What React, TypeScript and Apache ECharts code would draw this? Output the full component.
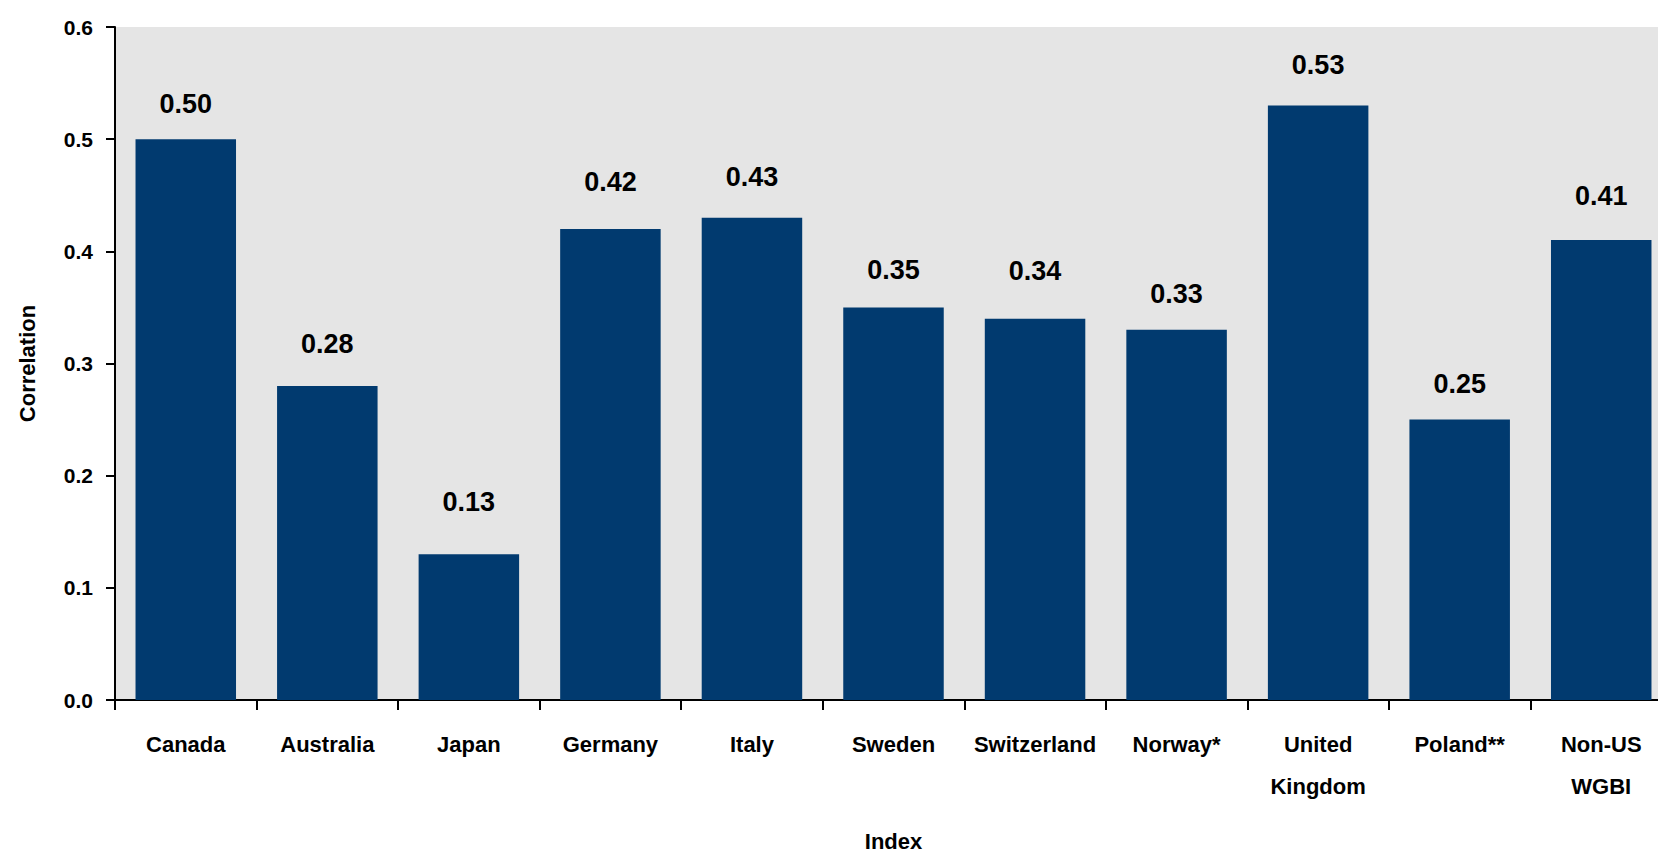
import React, { useEffect, useRef } from "react";
import * as echarts from "echarts";

const categories = [
  "Canada",
  "Australia",
  "Japan",
  "Germany",
  "Italy",
  "Sweden",
  "Switzerland",
  "Norway*",
  "United\nKingdom",
  "Poland**",
  "Non-US\nWGBI",
];
const correlations = [0.5, 0.28, 0.13, 0.42, 0.43, 0.35, 0.34, 0.33, 0.53, 0.25, 0.41];
const yTicks = { min: 0, max: 0.6, interval: 0.1 };

// extra gap (px) between each bar top and its value label, as placed in the original
const labelLift = [0, 6, 17, 11, 5, 2, 12, 0, 5, 0, 9];

const FONT = '"Liberation Sans", Arial, sans-serif';

export default function App() {
  const ref = useRef<HTMLDivElement>(null);
  useEffect(() => {
    if (!ref.current) return;
    const chart = echarts.init(ref.current, undefined, { renderer: "svg" });
    const barData = correlations.map((v, i) => ({
      value: v,
      label: { distance: 22 + labelLift[i] },
    }));
    chart.setOption({
      animation: false,
      grid: {
        left: 115,
        right: 0,
        top: 27,
        bottom: 153,
        show: true,
        backgroundColor: "#e5e5e5",
        borderWidth: 0,
        containLabel: false,
        outerBoundsMode: "none",
      },
      xAxis: {
        type: "category",
        data: categories,
        name: "Index",
        nameLocation: "middle",
        nameGap: 130,
        nameTextStyle: { fontFamily: FONT, fontWeight: "bold", fontSize: 22, color: "#000" },
        axisLine: { show: true, lineStyle: { color: "#000", width: 2 } },
        axisTick: { show: true, length: 10, alignWithLabel: false, lineStyle: { color: "#000", width: 2 } },
        axisLabel: {
          interval: 0,
          margin: 23,
          fontFamily: FONT,
          fontWeight: "bold",
          fontSize: 22,
          lineHeight: 42,
          color: "#000",
        },
        splitLine: { show: false },
      },
      yAxis: {
        type: "value",
        min: yTicks.min,
        max: yTicks.max,
        interval: yTicks.interval,
        name: "Correlation",
        nameLocation: "middle",
        nameGap: 77,
        nameTextStyle: { fontFamily: FONT, fontWeight: "bold", fontSize: 22, color: "#000" },
        axisLine: { show: true, lineStyle: { color: "#000", width: 2 } },
        axisTick: { show: true, length: 9, inside: false, lineStyle: { color: "#000", width: 2 } },
        axisLabel: {
          margin: 22,
          fontFamily: FONT,
          fontWeight: "bold",
          fontSize: 21,
          color: "#000",
          formatter: (v: number) => v.toFixed(1),
        },
        splitLine: { show: false },
      },
      series: [
        {
          type: "bar",
          data: barData,
          barCategoryGap: "29%",
          itemStyle: { color: "#013a6f" },
          label: {
            show: true,
            position: "top",
            distance: 22,
            fontFamily: FONT,
            fontWeight: "bold",
            fontSize: 27,
            color: "#000",
            formatter: (p: any) => Number(p.value).toFixed(2),
          },
        },
      ],
    });
    return () => chart.dispose();
  }, []);
  return (
    <div
      style={{
        position: "fixed",
        left: 0,
        top: 0,
        width: 1658,
        height: 853,
        overflow: "hidden",
        background: "#fff",
      }}
    >
      <div ref={ref} style={{ width: 1672, height: 853 }} />
    </div>
  );
}
